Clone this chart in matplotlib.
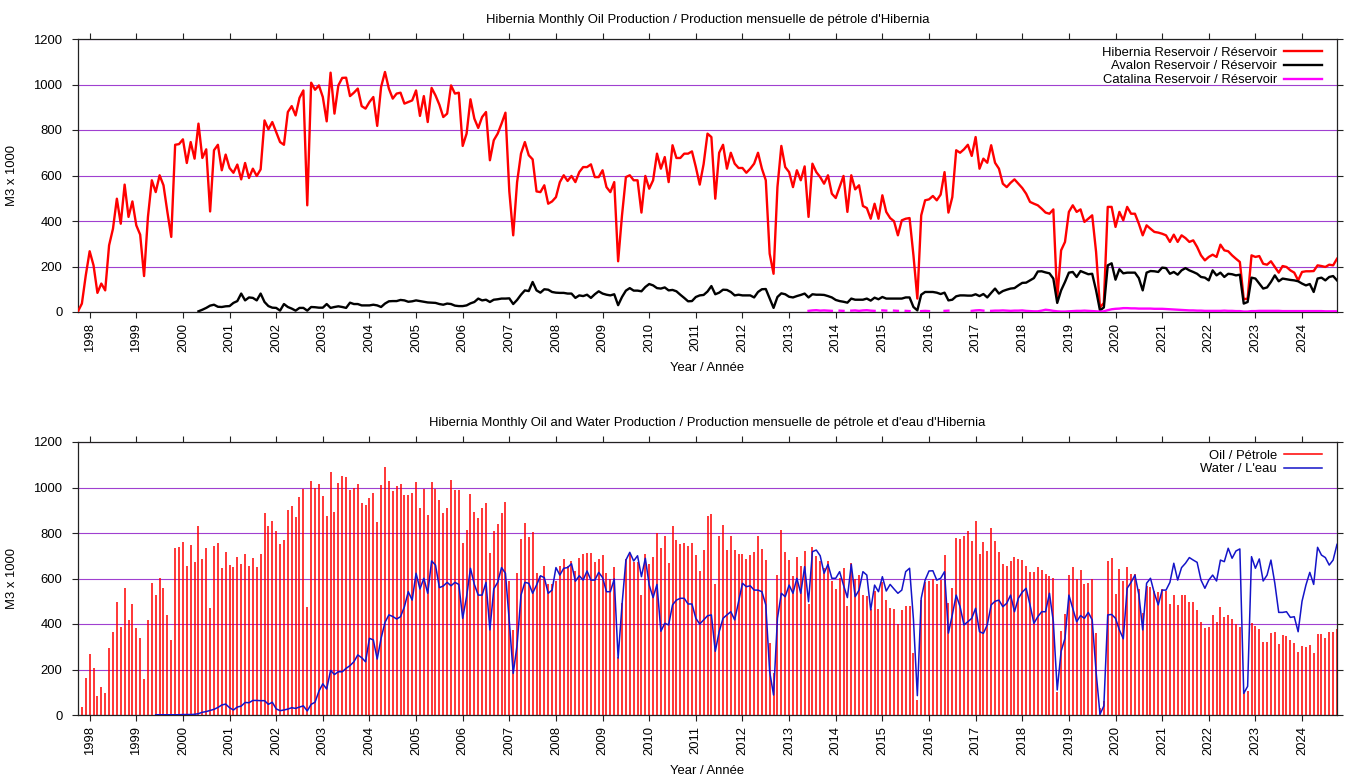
import numpy as np
import pandas as pd
import matplotlib
matplotlib.use("Agg")
import matplotlib.pyplot as plt
from matplotlib.lines import Line2D

nan = np.nan

# ---------------- data (monthly, starting Oct 1997) ----------------
start_month = "1997-10"

hibernia = [
    3, 37, 161, 267, 205, 84, 125, 95, 293, 366,
    498, 388, 560, 418, 486, 381, 340, 158, 418, 579,
    527, 601, 557, 440, 330, 735, 738, 759, 655, 747,
    674, 828, 677, 715, 442, 711, 735, 623, 692, 633,
    612, 648, 583, 655, 589, 630, 598, 627, 842, 803,
    835, 791, 747, 735, 879, 905, 864, 941, 974, 469,
    1008, 977, 996, 945, 838, 1052, 872, 996, 1029, 1030,
    949, 964, 982, 905, 894, 923, 945, 818, 989, 1055,
    982, 938, 960, 964, 916, 923, 930, 974, 862, 949,
    835, 985, 952, 911, 857, 872, 996, 960, 964, 730,
    784, 935, 850, 809, 857, 879, 667, 755, 784, 828,
    876, 530, 337, 571, 696, 747, 689, 671, 530, 527,
    557, 476, 486, 505, 571, 601, 576, 598, 571, 615,
    637, 637, 649, 593, 593, 623, 549, 527, 571, 223,
    425, 593, 601, 579, 579, 437, 598, 542, 579, 696,
    630, 681, 571, 733, 677, 677, 696, 696, 706, 637,
    560, 650, 784, 769, 498, 700, 735, 630, 700, 652,
    633, 633, 612, 630, 652, 700, 630, 579, 256, 168,
    549, 730, 637, 615, 549, 623, 579, 640, 418, 652,
    615, 593, 564, 601, 520, 501, 549, 598, 440, 601,
    539, 557, 466, 457, 410, 476, 410, 513, 440, 413,
    399, 337, 403, 410, 413, 249, 59, 425, 491, 495,
    510, 491, 516, 615, 437, 505, 711, 700, 715, 735,
    686, 769, 630, 674, 656, 733, 656, 630, 564, 549,
    568, 583, 564, 545, 520, 484, 476, 469, 454, 437,
    432, 451, 60, 271, 308, 440, 469, 440, 451, 396,
    410, 425, 264, 20, 40, 462, 462, 374, 440, 403,
    462, 432, 432, 388, 337, 381, 366, 352, 349, 344,
    337, 308, 340, 308, 337, 325, 308, 315, 286, 249,
    227, 242, 252, 242, 296, 271, 267, 249, 234, 220,
    56, 59, 249, 242, 246, 212, 208, 223, 198, 173,
    202, 198, 183, 173, 139, 176, 179, 179, 180, 205,
    202, 198, 208, 205, 234,
]

avalon = [nan] * 31 + [
    3, 10, 18, 28, 32, 23, 22, 25, 26,
    40, 48, 81, 51, 64, 62, 51, 81, 44, 26,
    19, 18, 6, 35, 22, 15, 6, 18, 18, 6,
    22, 21, 19, 19, 35, 18, 22, 25, 22, 18,
    41, 35, 35, 29, 29, 29, 32, 29, 22, 37,
    47, 48, 48, 53, 51, 45, 47, 51, 48, 45,
    42, 41, 40, 35, 32, 37, 35, 28, 26, 26,
    29, 38, 44, 59, 51, 54, 44, 54, 56, 59,
    59, 60, 35, 53, 76, 95, 92, 132, 95, 85,
    100, 98, 88, 85, 84, 84, 81, 81, 62, 73,
    70, 76, 62, 78, 91, 81, 76, 73, 78, 30,
    66, 94, 105, 94, 94, 91, 110, 123, 117, 105,
    103, 108, 95, 97, 91, 76, 62, 47, 48, 66,
    73, 75, 90, 114, 78, 85, 98, 97, 88, 73,
    76, 73, 73, 73, 64, 88, 100, 101, 59, 18,
    66, 82, 78, 67, 64, 70, 75, 81, 64, 78,
    76, 76, 75, 70, 64, 53, 48, 45, 41, 59,
    54, 54, 54, 59, 50, 63, 56, 66, 59, 59,
    59, 59, 59, 64, 64, 22, 7, 76, 88, 88,
    88, 85, 79, 85, 51, 54, 69, 73, 73, 72,
    72, 78, 70, 79, 64, 84, 103, 81, 92, 98,
    103, 105, 117, 128, 129, 139, 149, 178, 179, 174,
    170, 147, 40, 95, 132, 173, 176, 154, 180, 173,
    166, 168, 95, 7, 20, 205, 214, 142, 188, 170,
    173, 173, 173, 149, 95, 173, 180, 179, 176, 195,
    193, 168, 176, 164, 183, 193, 183, 176, 168, 154,
    151, 139, 183, 161, 173, 154, 168, 166, 161, 164,
    37, 44, 151, 147, 125, 103, 108, 132, 161, 135,
    147, 144, 141, 139, 135, 125, 117, 123, 88, 147,
    151, 139, 154, 158, 139,
]

catalina = [nan] * 188 + [
    5, 7, 8, 6, 7, 6, 5,
    nan, 6, 5, nan, 6, 7,
    5, 7, 8, 6, 5, nan, 7, 6, nan,
    6, 5, nan, 5, 4, nan, nan, 4, 5, 4,
    nan, nan, nan, 5, 6, nan, nan, nan, nan, nan,
    5, 7, 8, 6, nan, 5, 6, 6, 7, 6,
    5, 6, 6, 7, 5, 4, 3, 3, 6, 10,
    8, 5, 3, 2, 2, 3, 4, 5, 5, 6,
    5, 4, 3, 2, 3, 8, 12, 14, 15, 17,
    17, 16, 16, 15, 15, 15, 15, 14, 14, 14,
    13, 12, 11, 10, 9, 8, 7, 7, 6, 6,
    5, 5, 5, 5, 5, 6, 5, 5, 4, 4,
    2, 2, 4, 4, 5, 5, 5, 5, 5, 5,
    4, 4, 4, 4, 4, 4, 4, 4, 4, 4,
    4, 3, 3, 3, 3,
]

water = [nan] * 20 + [
    1, 1, 1, 1, 1, 1, 1, 2,
    2, 2, 3, 6, 12, 15, 20, 25, 33, 44, 48, 32,
    22, 35, 39, 55, 54, 64, 64, 63, 63, 47,
    56, 27, 19, 22, 26, 32, 29, 35, 40, 18,
    47, 56, 105, 137, 114, 196, 178, 190, 190, 205,
    217, 234, 264, 252, 234, 337, 330, 246, 337, 407,
    440, 433, 422, 432, 476, 542, 505, 623, 554, 601,
    535, 677, 659, 560, 567, 583, 568, 583, 574, 425,
    520, 645, 574, 527, 527, 583, 374, 554, 583, 648,
    623, 410, 183, 308, 527, 583, 579, 535, 571, 612,
    604, 535, 549, 648, 615, 645, 648, 665, 588, 612,
    593, 633, 593, 593, 627, 604, 542, 542, 598, 250,
    484, 681, 715, 677, 700, 608, 689, 571, 516, 574,
    368, 403, 396, 484, 505, 513, 513, 488, 488, 425,
    400, 418, 436, 440, 280, 366, 425, 440, 454, 418,
    498, 579, 564, 568, 549, 549, 542, 484, 190, 88,
    425, 535, 520, 571, 535, 601, 535, 652, 498, 718,
    725, 700, 623, 662, 601, 601, 630, 571, 516, 662,
    520, 549, 630, 615, 462, 571, 542, 608, 545, 574,
    554, 535, 549, 630, 645, 420, 85, 513, 593, 633,
    634, 593, 601, 630, 360, 440, 527, 476, 396, 410,
    425, 469, 366, 359, 396, 484, 500, 505, 476, 491,
    527, 454, 513, 540, 557, 484, 403, 432, 454, 454,
    535, 410, 110, 280, 337, 527, 469, 410, 437, 425,
    451, 418, 190, 3, 40, 440, 442, 425, 374, 335,
    557, 583, 615, 530, 374, 579, 601, 535, 484, 549,
    549, 583, 667, 593, 648, 667, 692, 681, 671, 593,
    557, 593, 615, 589, 681, 674, 733, 689, 721, 730,
    95, 126, 696, 645, 686, 589, 615, 681, 579, 451,
    451, 454, 429, 432, 366, 500, 571, 627, 574, 737,
    703, 692, 659, 681, 750,
]

year_ticks = list(range(1998, 2025))
y_ticks = [0, 200, 400, 600, 800, 1000, 1200]

title_top = "Hibernia Monthly Oil Production / Production mensuelle de pétrole d'Hibernia"
title_bot = ("Hibernia Monthly Oil and Water Production / "
             "Production mensuelle de pétrole et d'eau d'Hibernia")
legend_top = ["Hibernia Reservoir / Réservoir", "Avalon Reservoir / Réservoir",
              "Catalina Reservoir / Réservoir"]
legend_bot = ["Oil / Pétrole", "Water / L'eau"]
xlabel = "Year / Année"
ylabel = "M3 x 1000"

# ---------------- derived ----------------
n = len(hibernia)
months = pd.period_range(start_month, periods=n, freq="M")
x = np.array([p.year + (p.month - 1) / 12.0 for p in months])
hib = np.array(hibernia, dtype=float)
ava = np.array(avalon, dtype=float)
cat = np.array(catalina, dtype=float)
wat = np.array(water, dtype=float)
oil_total = hib + np.nan_to_num(ava) + np.nan_to_num(cat)

# ---------------- style ----------------
plt.rcParams["font.family"] = ["Liberation Sans", "DejaVu Sans"]
FS = 9.4
W, H = 1360, 781
fig = plt.figure(figsize=(W / 100, H / 100), dpi=100)

L, R = 78, 1337
def axes_px(top, bottom):
    return fig.add_axes([L / W, (H - bottom) / H, (R - L) / W, (bottom - top) / H])

ax1 = axes_px(39, 312)
ax2 = axes_px(442, 715)

GRID = "#a040d0"
SPINE = "#222222"

for ax in (ax1, ax2):
    ax.set_xlim(x[0], x[-1])
    ax.set_ylim(0, 1200)
    ax.set_xticks(year_ticks)
    ax.set_xticklabels([str(t) for t in year_ticks], rotation=90, fontsize=FS)
    ax.set_yticks(y_ticks)
    ax.set_yticklabels([str(t) for t in y_ticks], fontsize=FS)
    ax.tick_params(axis="both", direction="out", length=4.3, width=0.8,
                   color=SPINE, top=True, right=True,
                   labeltop=False, labelright=False)
    ax.tick_params(axis="x", pad=3.8)
    ax.tick_params(axis="y", pad=7)
    ax.yaxis.grid(True, color=GRID, lw=0.8)
    ax.set_axisbelow(True)
    for s in ax.spines.values():
        s.set_color(SPINE)
        s.set_linewidth(0.9)

# top chart
ax1.plot(x, hib, color="#ff0000", lw=1.7, zorder=3)
ax1.plot(x, ava, color="#000000", lw=1.7, zorder=3)
ax1.plot(x, cat, color="#ff00ff", lw=1.7, zorder=3)

legkw = dict(loc="upper right", frameon=False, markerfirst=False, borderpad=0,
             borderaxespad=0, handlelength=2.9, handletextpad=0.56,
             labelspacing=0.13, fontsize=FS)
h1 = [Line2D([], [], color=c, lw=1.7) for c in ("#ff0000", "#000000", "#ff00ff")]
ax1.legend(h1, legend_top,
           bbox_to_anchor=((1322 - L) / (R - L), (312 - 46.5) / 273), **legkw)

# bottom chart
ax2.vlines(x, 0, oil_total, color="#ff0000", lw=1.1, zorder=2)
ax2.plot(x, wat, color="#1414c8", lw=1.1, zorder=3)

h2 = [Line2D([], [], color="#ff0000", lw=1.1), Line2D([], [], color="#1414c8", lw=1.1)]
ax2.legend(h2, legend_bot,
           bbox_to_anchor=((1322 - L) / (R - L), (715 - 449.5) / 273), **legkw)

# titles and labels
cx = (L + R) / 2 / W
fig.text(cx, 1 - 20 / H, title_top, ha="center", va="center", fontsize=FS)
fig.text(cx, 1 - 423 / H, title_bot, ha="center", va="center", fontsize=FS)
fig.text(cx, 1 - 368 / H, xlabel, ha="center", va="center", fontsize=FS)
fig.text(cx, 1 - 771 / H, xlabel, ha="center", va="center", fontsize=FS)
fig.text(12 / W, 1 - 175.5 / H, ylabel, ha="center", va="center", rotation=90, fontsize=FS)
fig.text(12 / W, 1 - 578.5 / H, ylabel, ha="center", va="center", rotation=90, fontsize=FS)

fig.savefig("out.png", dpi=100)
